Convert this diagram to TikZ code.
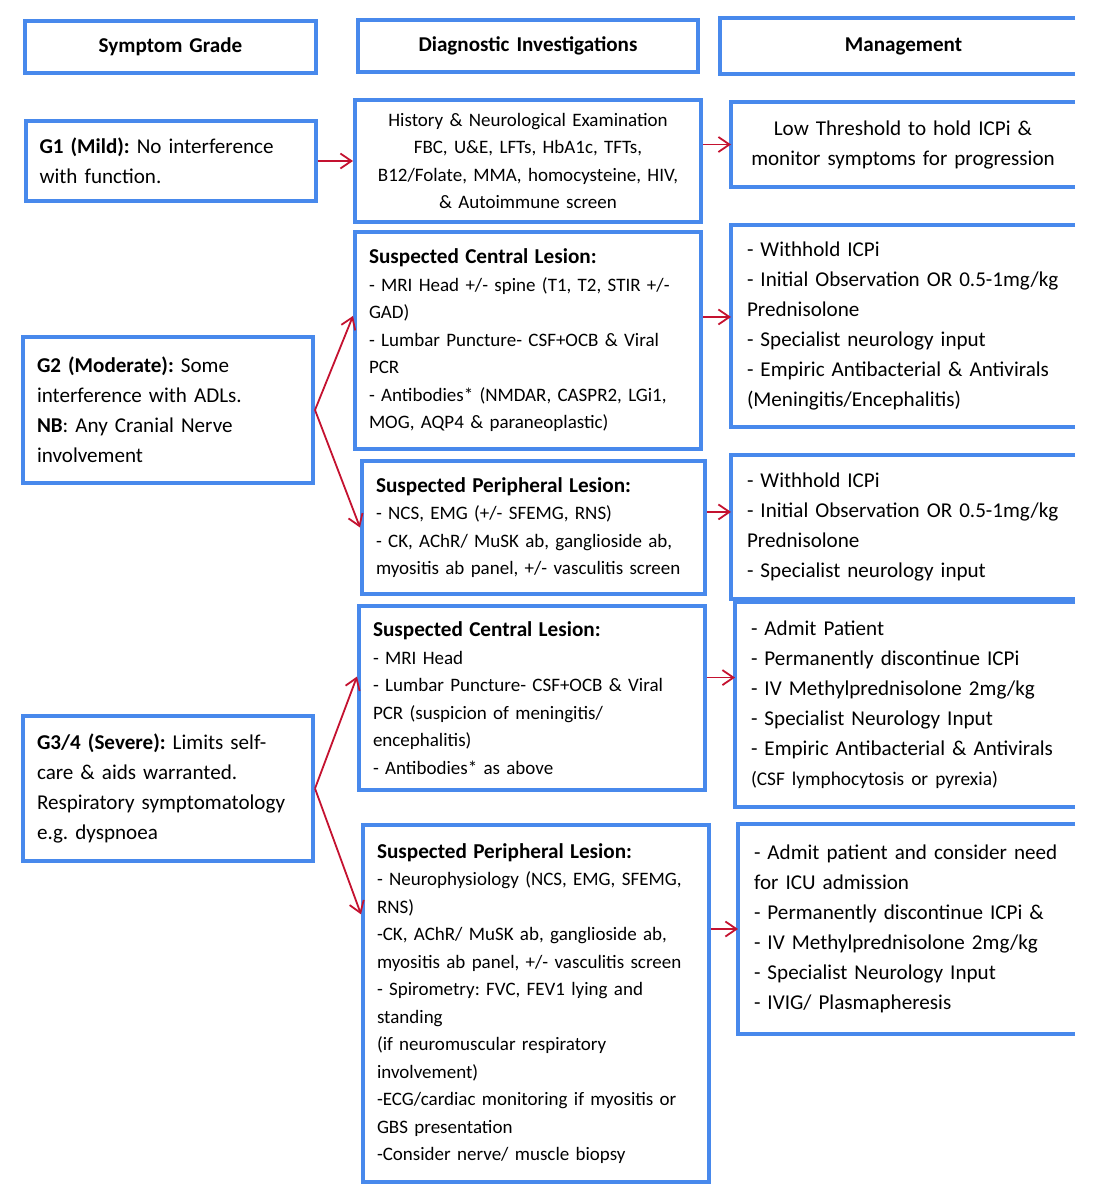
\documentclass[tikz,border=0pt]{standalone}
\usepackage{fontspec}
\setmainfont{Carlito}
\usetikzlibrary{arrows.meta}

\definecolor{boxblue}{RGB}{72,137,236}
\definecolor{arrowred}{RGB}{196,18,48}
\newcommand{\sidefont}{\fontsize{21.1}{30}\selectfont\frenchspacing}
\newcommand{\midfont}{\fontsize{19}{27.5}\selectfont\frenchspacing}
\newcommand{\lesion}[1]{{\fontsize{21.2}{27.5}\selectfont\bfseries #1}}

\begin{document}
\begin{tikzpicture}[
       x=1pt, y=-1pt,
       rahmen/.style={
         draw=boxblue,
         line width=4pt
       },
       kasten/.style={
         rahmen,
         inner xsep=14pt,
         inner ysep=4pt,
         align=left
       },
       kopf/.style={kasten, font=\sidefont\bfseries, minimum height=52pt, align=center},
       grad/.style={kasten, font=\sidefont, text width=262pt},
       unters/.style={kasten, font=\midfont, text width=318pt},
       massn/.style={kasten, draw=none, font=\sidefont, text width=#1},
       pfeil/.style={
         draw=arrowred,
         line width=1.8pt,
         -{Straight Barb[length=11pt,width=15pt]}
       }
     ]

       \useasboundingbox (0,0) rectangle (1095,1200);

       % headings
       \node (hs) at (170.5,47) [kopf,text width=263pt]{Symptom Grade};
       \node (hd) at (528,46) [kopf,text width=312pt]{Diagnostic Investigations};
       \node (hm) at (897.5,46) [kopf,draw=none,text width=323pt]{\hspace*{12pt}Management};

       % symptom grades
       \node (g1) at (170.5,161) [grad,minimum height=80pt]{\textbf{G1 (Mild):} No interference\\with function.};
       \node (g2) at (168,410) [grad,minimum height=146pt]{\textbf{G2 (Moderate):} Some\\interference with ADLs.\\\textbf{NB}: Any Cranial Nerve\\involvement};
       \node (g3) at (168,788.5) [grad,minimum height=145pt]{\textbf{G3/4 (Severe):} Limits self-\\care \& aids warranted.\\Respiratory symptomatology\\e.g. dyspnoea};

       % investigations
       \node (d1) at (528,161) [unters,align=center,minimum height=122pt]{History \& Neurological Examination\\FBC, U\&E, LFTs, HbA1c, TFTs,\\B12/Folate, MMA, homocysteine, HIV,\\\& Autoimmune screen};
       \node (d2) at (528,340.5) [unters,minimum height=217pt]{\lesion{Suspected Central Lesion:}\\- MRI Head +/- spine (T1, T2, STIR +/-\\GAD)\\- Lumbar Puncture- CSF+OCB \& Viral\\PCR\\- Antibodies* (NMDAR, CASPR2, LGi1,\\MOG, AQP4 \& paraneoplastic)};
       \node (d3) at (533.5,527.5) [unters,text width=315pt,minimum height=133pt]{\lesion{Suspected Peripheral Lesion:}\\- NCS, EMG (+/- SFEMG, RNS)\\- CK, AChR/ MuSK ab, ganglioside ab,\\myositis ab panel, +/- vasculitis screen};
       \node (d4) at (532,698) [unters,minimum height=184pt]{\lesion{Suspected Central Lesion:}\\- MRI Head\\- Lumbar Puncture- CSF+OCB \& Viral\\PCR (suspicion of meningitis/\\encephalitis)\\- Antibodies* as above};
       \node (d5) at (536,1003.5) [unters,minimum height=357pt]{\lesion{Suspected Peripheral Lesion:}\\- Neurophysiology (NCS, EMG, SFEMG,\\RNS)\\-CK, AChR/ MuSK ab, ganglioside ab,\\myositis ab panel, +/- vasculitis screen\\- Spirometry: FVC, FEV1 lying and\\standing\\(if neuromuscular respiratory\\involvement)\\-ECG/cardiac monitoring if myositis or\\GBS presentation\\-Consider nerve/ muscle biopsy};

       % management (open to the right)
       \node (m1) at (903,144.5) [massn=312pt,align=center,minimum height=81pt]{Low Threshold to hold ICPi \&\\\mbox{monitor symptoms for progression}};
       \node (m2) at (903,326) [massn=312pt,minimum height=198pt]{- Withhold ICPi\\\mbox{- Initial Observation OR 0.5-1mg/kg}\\Prednisolone\\- Specialist neurology input\\\mbox{- Empiric Antibacterial \& Antivirals}\\(Meningitis/Encephalitis)};
       \node (m3) at (903,527) [massn=312pt,minimum height=140pt]{- Withhold ICPi\\\mbox{- Initial Observation OR 0.5-1mg/kg}\\Prednisolone\\- Specialist neurology input};
       \node (m4) at (905,704.5) [massn=308pt,minimum height=201pt]{- Admit Patient\\- Permanently discontinue ICPi\\- IV Methylprednisolone 2mg/kg\\- Specialist Neurology Input\\\mbox{- Empiric Antibacterial \& Antivirals}\\{\fontsize{19.35}{30}\selectfont (CSF lymphocytosis or pyrexia)}};
       \node (m5) at (906.5,929) [massn=305pt,minimum height=206pt]{\mbox{- Admit patient and consider need}\\for ICU admission\\\mbox{- Permanently discontinue ICPi \&}\\- IV Methylprednisolone 2mg/kg\\- Specialist Neurology Input\\- IVIG/ Plasmapheresis};

       \foreach \m in {hm,m1,m2,m3,m4,m5}
         \draw[rahmen] (\m.north east) -- (\m.north west) -- (\m.south west) -- (\m.south east);

       \draw[pfeil] (g1.east) -- (d1.west);
       \draw[pfeil] (d1.east |- m1.west) -- (m1.west);

       \draw[pfeil] (g2.east) -- (d2.172);
       \draw[pfeil] (g2.east) -- (d3.west);
       \draw[pfeil] (d2.east |- m2.177) -- (m2.177);
       \draw[pfeil] (d3.east |- m3.175) -- (m3.175);

       \draw[pfeil] (g3.east) -- (d4.173);
       \draw[pfeil] (g3.east) -- (d5.153);
       \draw[pfeil] (d4.east |- m4.171) -- (m4.171);
       \draw[pfeil] (d5.east |- m5.west) -- (m5.west);

\end{tikzpicture}
\end{document}
